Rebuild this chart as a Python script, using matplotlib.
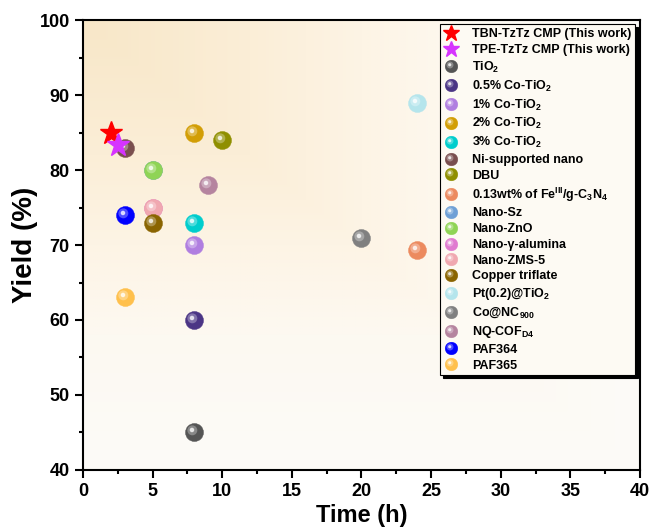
import numpy as np
import matplotlib
matplotlib.use('Agg')
import matplotlib.pyplot as plt
from matplotlib.markers import MarkerStyle
from matplotlib.transforms import Affine2D
from matplotlib.colors import to_rgb

plt.rcParams['font.family'] = ['Liberation Sans', 'DejaVu Sans']
plt.rcParams['font.weight'] = 'bold'
plt.rcParams['mathtext.fontset'] = 'custom'
plt.rcParams['mathtext.rm'] = 'Liberation Sans:bold'
plt.rcParams['mathtext.bf'] = 'Liberation Sans:bold'
plt.rcParams['mathtext.default'] = 'bf'

# 本工作 (星形)
star_labels = ['TBN-TzTz CMP (This work)', 'TPE-TzTz CMP (This work)']
star_time = [2, 2.5]
star_yield = [85, 83.3]
star_colors = ['#ff0000', '#d633ff']

# 文献对比 (球形)
ball_labels = ['TiO$_2$', '0.5% Co-TiO$_2$', '1% Co-TiO$_2$', '2% Co-TiO$_2$', '3% Co-TiO$_2$',
               'Ni-supported nano', 'DBU', '0.13wt% of Fe$^{III}$/g-C$_3$N$_4$', 'Nano-Sz', 'Nano-ZnO',
               'Nano-γ-alumina', 'Nano-ZMS-5', 'Copper triflate', 'Pt(0.2)@TiO$_2$', 'Co@NC$_{900}$',
               'NQ-COF$_{D4}$', 'PAF364', 'PAF365']
ball_time = [8, 8, 8, 8, 8, 3, 10, 24, 5, 5, 5, 5, 5, 24, 20, 9, 3, 3]
ball_yield = [45, 60, 70, 85, 73, 83, 84, 69.3, 80, 80, 75, 75, 73, 89, 71, 78, 74, 63]
ball_colors = ['#555555', '#4b3585', '#b07ee0', '#d29e05', '#00cdcd', '#7a4f4f', '#8f8f00', '#ec8a5f',
               '#6fa0d6', '#8fd455', '#e07ad0', '#f0a8b0', '#8a6400', '#b5e5ec', '#808080', '#b5849f',
               '#0000ff', '#ffc04c']

fig = plt.figure(figsize=(6.51, 5.31), dpi=100)
ax = fig.add_axes([0.1275, 0.1149, 0.8555, 0.8474])

# 背景渐变 (左上深, 右下浅)
xx, yy = np.meshgrid(np.linspace(0, 1, 300), np.linspace(0, 1, 300))
t = np.maximum(xx, yy)
stops = [0, 0.3, 0.5, 0.7, 1]
stop_colors = np.array([to_rgb(c) for c in ['#f8e7c8', '#fbeed7', '#fdf4e5', '#fdf9f1', '#fcfbf8']])
bg = np.stack([np.interp(t, stops, stop_colors[:, i]) for i in range(3)], axis=-1)
ax.imshow(bg, extent=[0, 40, 40, 100], origin='upper', aspect='auto', zorder=0, interpolation='bilinear')

hl_mid = MarkerStyle('o', transform=Affine2D().scale(0.55).translate(-0.12, 0.12))
hl_core = MarkerStyle('o', transform=Affine2D().scale(0.25).translate(-0.14, 0.14))

def lighten(c, f):
    c = np.array(to_rgb(c))
    return tuple(c + (1 - c) * f)

handles = []
labels = []
for lab, x, y, c in zip(star_labels, star_time, star_yield, star_colors):
    h, = ax.plot(x, y, marker='*', ms=17, color=c, mec=c, ls='none', zorder=5)
    handles.append(h)
    labels.append(lab)

for lab, x, y, c in zip(ball_labels, ball_time, ball_yield, ball_colors):
    b, = ax.plot(x, y, marker='o', ms=13, color=c, mec=c, mew=0.3, ls='none', zorder=3)
    m, = ax.plot(x, y, marker=hl_mid, ms=13, color=lighten(c, 0.3), mew=0, ls='none', zorder=3)
    k, = ax.plot(x, y, marker=hl_core, ms=13, color=lighten(c, 0.85), mew=0, ls='none', zorder=3)
    handles.append((b, m, k))
    labels.append(lab)

ax.set_xlim(0, 40)
ax.set_ylim(40, 100)
ax.set_xticks(np.arange(0, 41, 5))
ax.set_xticks(np.arange(0, 41, 2.5), minor=True)
ax.set_yticks(np.arange(40, 101, 10))
ax.set_yticks(np.arange(40, 101, 5), minor=True)
ax.tick_params(which='major', direction='out', length=6, width=1.5, labelsize=13)
ax.tick_params(which='minor', direction='out', length=3, width=1.5)
for s in ax.spines.values():
    s.set_linewidth(1.5)
for lb in ax.get_xticklabels() + ax.get_yticklabels():
    lb.set_fontweight('bold')

ax.set_xlabel('Time (h)', fontsize=17, fontweight='bold', labelpad=3)
ax.set_ylabel('Yield (%)', fontsize=20, fontweight='bold', labelpad=1)

leg = ax.legend(handles, labels, loc='upper right', bbox_to_anchor=(1.003, 1.004),
                markerscale=0.7, handlelength=1.2, handletextpad=1.1,
                labelspacing=0.3, borderpad=0.3, frameon=True, fancybox=False,
                shadow={'color': 'black', 'alpha': 1}, prop={'weight': 'bold', 'size': 9})
leg.get_frame().set_edgecolor('black')
leg.get_frame().set_linewidth(0.8)
leg.get_frame().set_facecolor('#fdfaf3')
leg.get_frame().set_alpha(1)

plt.savefig('out.png', dpi=100)
